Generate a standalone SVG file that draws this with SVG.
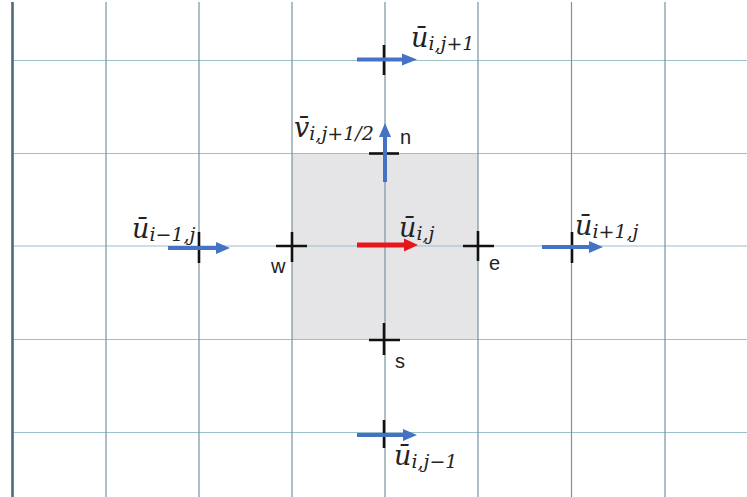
<svg xmlns="http://www.w3.org/2000/svg" width="747" height="497" viewBox="0 0 747 497">
<style>
.vg{stroke:#7a93a0;stroke-width:1.2;fill:none}
.hg{stroke:#9cc0cc;stroke-width:1.2;fill:none}
.tick{stroke:#111;stroke-width:2.6;fill:none}
.blue{fill:#4472c4}
.red{fill:#e5161c}
.m{font-family:"DejaVu Serif","Liberation Serif",serif;font-style:italic;font-size:27px;fill:#222}
.sub{font-size:19px}
.lbl{font-family:"Liberation Sans","DejaVu Sans",sans-serif;font-size:20px;fill:#222}
</style>
<rect width="747" height="497" fill="#ffffff"/>
<g id="grid">
<rect x="292" y="153.5" width="186" height="186" fill="#e5e4e7"/>
<path class="hg" d="M13 60.5H747M13 153.5H747M13 246H747M13 339.5H747M13 432.5H747"/>
<path class="vg" d="M106 2V497M199 2V497M292 2V497M385 2V497M478 2V497M571.5 2V497M665 2V497"/>
<line x1="12.5" y1="2" x2="12.5" y2="497" stroke="#4d6b7c" stroke-width="2.6"/>
</g>
<g id="node-w">
<path class="tick" d="M276 246H307M292 232V262"/>
<text class="lbl" x="271" y="273">w</text>
</g>
<g id="node-e">
<path class="tick" d="M463 246H494M478 231V261"/>
<text class="lbl" x="489" y="270">e</text>
</g>
<g id="node-s">
<path class="tick" d="M369 340H400M384 323V355"/>
<text class="lbl" x="395" y="368">s</text>
</g>
<g id="node-n">
<path class="tick" d="M369 153.5H399"/>
<text class="lbl" x="400" y="144">n</text>
</g>
<g id="node-u-ij1">
<path class="tick" d="M384 45V75"/>
<text class="m" x="411" y="47">ū<tspan class="sub" dy="3">i,j+1</tspan></text>
</g>
<g id="node-v">
<text class="m" x="294" y="137">v̄<tspan class="sub" dy="3">i,j+1/2</tspan></text>
</g>
<g id="node-u-im1">
<path class="tick" d="M199 232V263"/>
<text class="m" x="132" y="238">ū<tspan class="sub" dy="3">i−1,j</tspan></text>
</g>
<g id="node-u-ij">
<text class="m" x="399" y="237">ū<tspan class="sub" dy="3">i,j</tspan></text>
</g>
<g id="node-u-ip1">
<path class="tick" d="M572 232V263"/>
<text class="m" x="575" y="235">ū<tspan class="sub" dy="3">i+1,j</tspan></text>
</g>
<g id="node-u-ijm1">
<path class="tick" d="M384 420V448"/>
<text class="m" x="394" y="465">ū<tspan class="sub" dy="3">i,j−1</tspan></text>
</g>
<g id="connectors">
<path class="blue" d="M357 57.5H402V53.5L417 59.5L402 65.5V61.5H357Z"/>
<path class="blue" d="M168 246H216V242L230 248L216 254V250H168Z"/>
<path class="blue" d="M542 245H589V241L603 247L589 253V249H542Z"/>
<path class="blue" d="M357 433H403V429L417 435L403 441V437H357Z"/>
<path class="blue" d="M383 182V137H379L385 123L391 137H387V182Z"/>
<path class="red" d="M357 242.5H404V238.5L418 245L404 251.5V247.5H357Z"/>
</g>
</svg>
